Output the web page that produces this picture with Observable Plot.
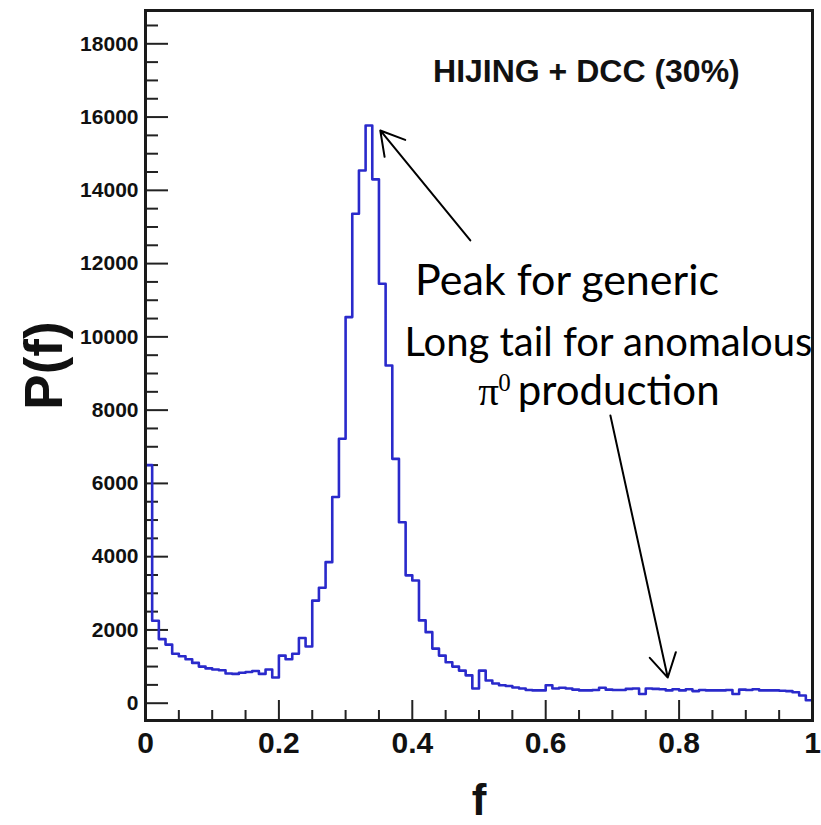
<!DOCTYPE html>
<html>
<head>
<meta charset="utf-8">
<script src="https://cdn.jsdelivr.net/npm/d3@7"></script>
<script src="https://cdn.jsdelivr.net/npm/@observablehq/plot@0.6"></script>
<style>
  html, body { margin: 0; padding: 0; background: #fff; }
  #chart svg { display: block; }
</style>
</head>
<body>
<div id="chart"></div>
<script>
// Histogram P(f), 100 bins of width 0.01 over f in [0,1]
const binWidth = 0.01;
const counts = [
  6500, 2250, 1750, 1600, 1350, 1280, 1200, 1100, 1000, 950,
  920, 900, 810, 800, 830, 850, 880, 800, 920, 700,
  1300, 1200, 1350, 1780, 1550, 2800, 3150, 3850, 5630, 7220,
  10540, 13360, 14540, 15770, 14300, 11450, 9220, 6670, 4940, 3490,
  3350, 2260, 1940, 1490, 1300, 1120, 1000, 890, 760, 400,
  890, 620, 540, 490, 470, 430, 400, 360, 350, 350,
  490, 400, 420, 400, 370, 350, 350, 360, 420, 370,
  360, 360, 390, 400, 250, 400, 390, 380, 350, 380,
  350, 380, 330, 360, 350, 350, 350, 360, 250, 370,
  360, 380, 350, 350, 350, 340, 330, 300, 210, 80
];
const xTickLabels = [0, 0.2, 0.4, 0.6, 0.8, 1];
const xMinorTicks = [0.05, 0.1, 0.15, 0.25, 0.3, 0.35, 0.45, 0.5, 0.55, 0.65, 0.7, 0.75, 0.85, 0.9, 0.95];
const yTickLabels = [0, 2000, 4000, 6000, 8000, 10000, 12000, 14000, 16000, 18000];
const yMinorTicks = [500, 1000, 1500, 2500, 3000, 3500, 4500, 5000, 5500, 6500, 7000, 7500,
  8500, 9000, 9500, 10500, 11000, 11500, 12500, 13000, 13500, 14500, 15000, 15500, 16500, 17000, 17500, 18500];
const title = "HIJING + DCC (30%)";
const xLabel = "f";
const yLabel = "P(f)";

// step line points: left edge of each bin, plus closing point at f = 1
const steps = counts.map((c, i) => ({f: i * binWidth, p: c}));
steps.push({f: 1, p: counts[counts.length - 1]});

const yMin = -472, yMax = 18909;
const pxX = 1 / 667;          // one pixel in f units
const pxY = 1 / 0.036633;     // one pixel in P units

const lato = "Lato, 'Open Sans', sans-serif";
const boldSans = "'Liberation Sans', Arial, Helvetica, sans-serif";

const chart = Plot.plot({
  width: 821,
  height: 825,
  marginLeft: 145,
  marginRight: 9,
  marginTop: 10,
  marginBottom: 105,
  x: {domain: [0, 1], axis: null},
  y: {domain: [yMin, yMax], axis: null},
  style: {fontFamily: boldSans, background: "#fff", color: "#111"},
  marks: [
    // ticks (inward)
    Plot.ruleY(yTickLabels, {y: d => d, x1: 0, x2: 23 * pxX, stroke: "#222", strokeWidth: 2}),
    Plot.ruleY(yMinorTicks, {y: d => d, x1: 0, x2: 13 * pxX, stroke: "#222", strokeWidth: 2}),
    Plot.ruleX(xTickLabels, {x: d => d, y1: yMin, y2: yMin + 20 * pxY, stroke: "#222", strokeWidth: 2}),
    Plot.ruleX(xMinorTicks, {x: d => d, y1: yMin, y2: yMin + 10 * pxY, stroke: "#222", strokeWidth: 2}),
    // histogram
    Plot.lineY(steps, {x: "f", y: "p", curve: "step-after", stroke: "#2a2acb", strokeWidth: 2.6}),
    // frame
    Plot.frame({stroke: "#1a1a1a", strokeWidth: 3}),
    // tick labels
    Plot.axisY({ticks: yTickLabels, tickSize: 0, tickPadding: 7, tickFormat: d => String(d),
      fontSize: 21, fontWeight: "bold", label: null}),
    Plot.axisX({ticks: xTickLabels, tickSize: 0, tickPadding: 11, tickFormat: d => String(d),
      fontSize: 30, fontWeight: "bold", label: null}),
    // axis titles
    Plot.text([yLabel], {frameAnchor: "left", dx: -100, rotate: -90, text: d => d,
      fontSize: 53, fontWeight: "bold", textAnchor: "middle", lineAnchor: "middle"}),
    Plot.text([xLabel], {frameAnchor: "bottom", dy: 80, text: d => d,
      fontSize: 44, fontWeight: "bold", textAnchor: "middle", lineAnchor: "middle"}),
    // title inside frame
    Plot.text([title], {x: 0.661, y: 16950, text: d => d, fontSize: 32, fontWeight: "bold",
      textAnchor: "middle", lineAnchor: "bottom", fill: "#111"}),
    // annotations
    Plot.text(["Peak for generic"], {x: 0.632, y: 11130, text: d => d, fontFamily: lato,
      fontSize: 43, textAnchor: "middle", lineAnchor: "bottom", fill: "#000"}),
    Plot.text(["Long tail for anomalous"], {x: 0.694, y: 9480, text: d => d, fontFamily: lato,
      fontSize: 40, textAnchor: "middle", lineAnchor: "bottom", fill: "#000"}),
    Plot.text(["π"], {x: 0.499, y: 8150, text: d => d, fontFamily: "'Liberation Serif', serif",
      fontSize: 41, textAnchor: "start", lineAnchor: "bottom", fill: "#000"}),
    Plot.text(["0"], {x: 0.529, y: 8150, dy: -14, text: d => d, fontFamily: "'Liberation Serif', serif",
      fontSize: 25, textAnchor: "start", lineAnchor: "bottom", fill: "#000"}),
    Plot.text(["production"], {x: 0.558, y: 8150, text: d => d, fontFamily: lato,
      fontSize: 42, textAnchor: "start", lineAnchor: "bottom", fill: "#000"}),
    // arrows
    Plot.arrow([{x1: 0.487, y1: 12631, x2: 0.352, y2: 15634}], {x1: "x1", y1: "y1", x2: "x2", y2: "y2",
      stroke: "#000", strokeWidth: 2, headLength: 20, headAngle: 60}),
    Plot.arrow([{x1: 0.697, y1: 7853, x2: 0.783, y2: 700}], {x1: "x1", y1: "y1", x2: "x2", y2: "y2",
      stroke: "#000", strokeWidth: 2, headLength: 20, headAngle: 60})
  ]
});
document.getElementById("chart").appendChild(chart);
</script>
</body>
</html>
